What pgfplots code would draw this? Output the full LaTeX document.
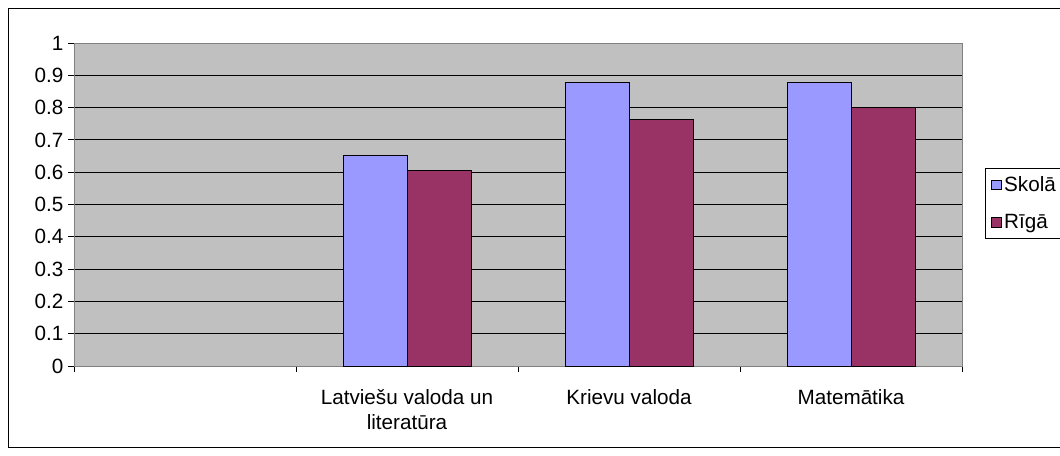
\documentclass[border=0pt]{standalone}
\usepackage{pgfplots}
\pgfplotsset{compat=1.18}
\usepackage{fontspec}
\setmainfont{Liberation Sans}
\definecolor{skola}{HTML}{9999FF}
\definecolor{riga}{HTML}{993366}
\definecolor{plotgray}{HTML}{C0C0C0}
\pgfplotsset{mylegend/.style={legend image code/.code={\draw[##1, draw=black, line width=0.75pt] (0pt,-3.6pt) rectangle (7.2pt,3.6pt);}}}
\begin{document}
\begin{tikzpicture}[font=\fontsize{15.5}{18.75}\selectfont]
\path[use as bounding box, clip] (0,0) rectangle (795pt,341.25pt);
\draw[black, line width=0.75pt] (6pt,6pt) rectangle (830pt,335.25pt);
\begin{axis}[
  at={(55.5pt,66.75pt)}, anchor=south west,
  scale only axis, width=666pt, height=242.25pt,
  xmin=-0.5, xmax=3.5, ymin=0, ymax=1,
  axis background/.style={fill=plotgray},
  axis line style={draw=gray, line width=0.75pt},
  ytick={0,0.1,0.2,0.3,0.4,0.5,0.6,0.7,0.8,0.9,1},
  yticklabels={0,0.1,0.2,0.3,0.4,0.5,0.6,0.7,0.8,0.9,1},
  xtick={-0.5,0.5,1.5,2.5,3.5},
  xticklabels={,,,,},
  extra x ticks={1,2,3},
  extra x tick labels={{Latviešu valoda un\\literatūra},{Krievu valoda},{Matemātika}},
  extra x tick style={major tick length=0pt, grid=none, xticklabel style={align=center, yshift=-14pt}},
  tick pos=left, tick align=outside, major tick length=4.5pt,
  tick style={black, line width=0.75pt},
  ymajorgrids, grid style={black, line width=0.75pt},
  ybar=0pt, bar width=48pt,
  legend style={at={(1.026,0.613)}, anchor=north west, draw=black, line width=0.75pt, fill=white,
    font=\fontsize{15.5}{18.75}\selectfont, row sep=11.5pt, inner xsep=4pt, inner ysep=4pt},
  legend cell align=left,
]
\addplot[fill=skola, draw=black, line width=0.75pt, mylegend] coordinates {(1,0.651) (2,0.877) (3,0.877)};
\addplot[fill=riga, draw=black, line width=0.75pt, mylegend] coordinates {(1,0.606) (2,0.764) (3,0.801)};
\legend{Skolā\hspace{12pt},Rīgā}
\end{axis}
\end{tikzpicture}
\end{document}
